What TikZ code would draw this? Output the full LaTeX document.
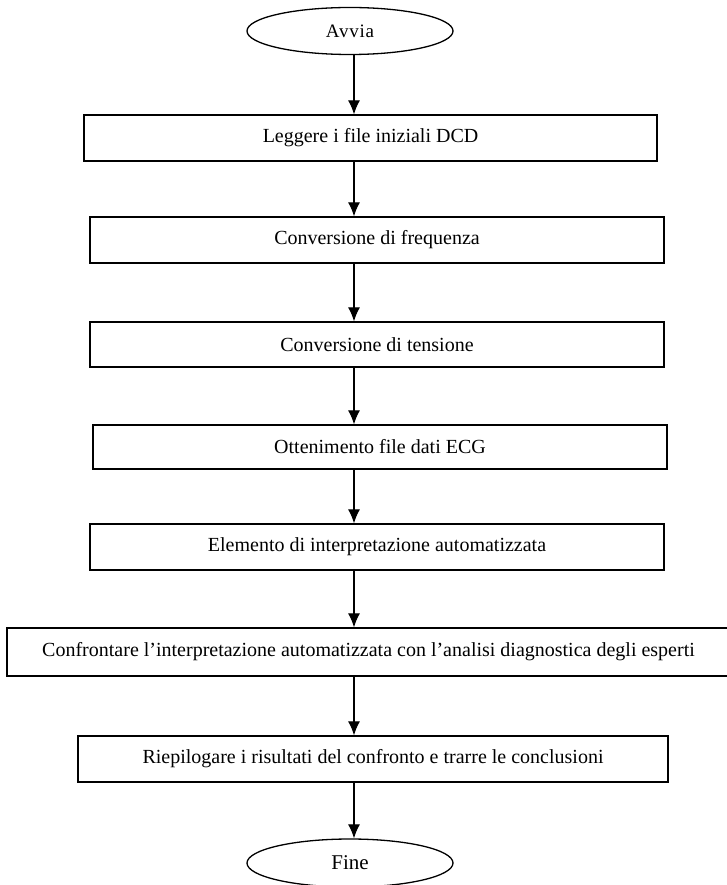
\documentclass[tikz,border=0pt]{standalone}
\usepackage{fontspec}
\setmainfont{Liberation Serif}
\usetikzlibrary{shapes.geometric, arrows.meta, positioning, calc}

\begin{document}
\begin{tikzpicture}[
    x=1pt, y=-1pt,
    font=\fontsize{20}{24}\selectfont,
    process/.style={rectangle, minimum width=574pt, minimum height=46pt, inner sep=0pt, text centered, draw=black, line width=1.3pt},
    terminal/.style={ellipse, minimum width=206pt, minimum height=47pt, inner sep=0pt, draw=black, line width=1.3pt},
    arrow/.style={line width=1.2pt, -{Latex[length=14pt, width=12pt]}}
]
    \useasboundingbox (0,0) rectangle (727,885);

    \node[terminal, font=\fontsize{19}{22}\selectfont\addfontfeature{LetterSpace=4}] (avvia) at (350,31) {\raisebox{-2.5pt}{Avvia}};
    \node[process, minimum width=573pt] (leggere) at (370.5,138) {Leggere i file iniziali DCD};
    \node[process] (frequenza) at (377,240) {Conversione di frequenza};
    \node[process, minimum height=45pt] (tensione) at (377,344.5) {Conversione di tensione};
    \node[process, minimum height=44pt] (ecg) at (380,447) {Ottenimento file dati ECG};
    \node[process] (elemento) at (377,547) {Elemento di interpretazione automatizzata};
    \node[process, minimum width=723pt, minimum height=48pt] (confronto) at (368.5,652) {Confrontare l’interpretazione automatizzata con l’analisi diagnostica degli esperti};
    \node[process, minimum width=590pt] (riepilogo) at (373,759) {Riepilogare i risultati del confronto e trarre le conclusioni};
    \node[terminal, minimum height=48pt, font=\fontsize{21}{24}\selectfont] (fine) at (350,863) {\raisebox{-4.3pt}{Fine}};

    \coordinate (asse) at (354,0);
    \draw[arrow] (asse |- avvia.south) -- (asse |- leggere.north);
    \draw[arrow] (asse |- leggere.south) -- (asse |- frequenza.north);
    \draw[arrow] (asse |- frequenza.south) -- (asse |- tensione.north);
    \draw[arrow] (asse |- tensione.south) -- (asse |- ecg.north);
    \draw[arrow] (asse |- ecg.south) -- (asse |- elemento.north);
    \draw[arrow] (asse |- elemento.south) -- (asse |- confronto.north);
    \draw[arrow] (asse |- confronto.south) -- (asse |- riepilogo.north);
    \draw[arrow] (asse |- riepilogo.south) -- (asse |- fine.north);

\end{tikzpicture}
\end{document}
